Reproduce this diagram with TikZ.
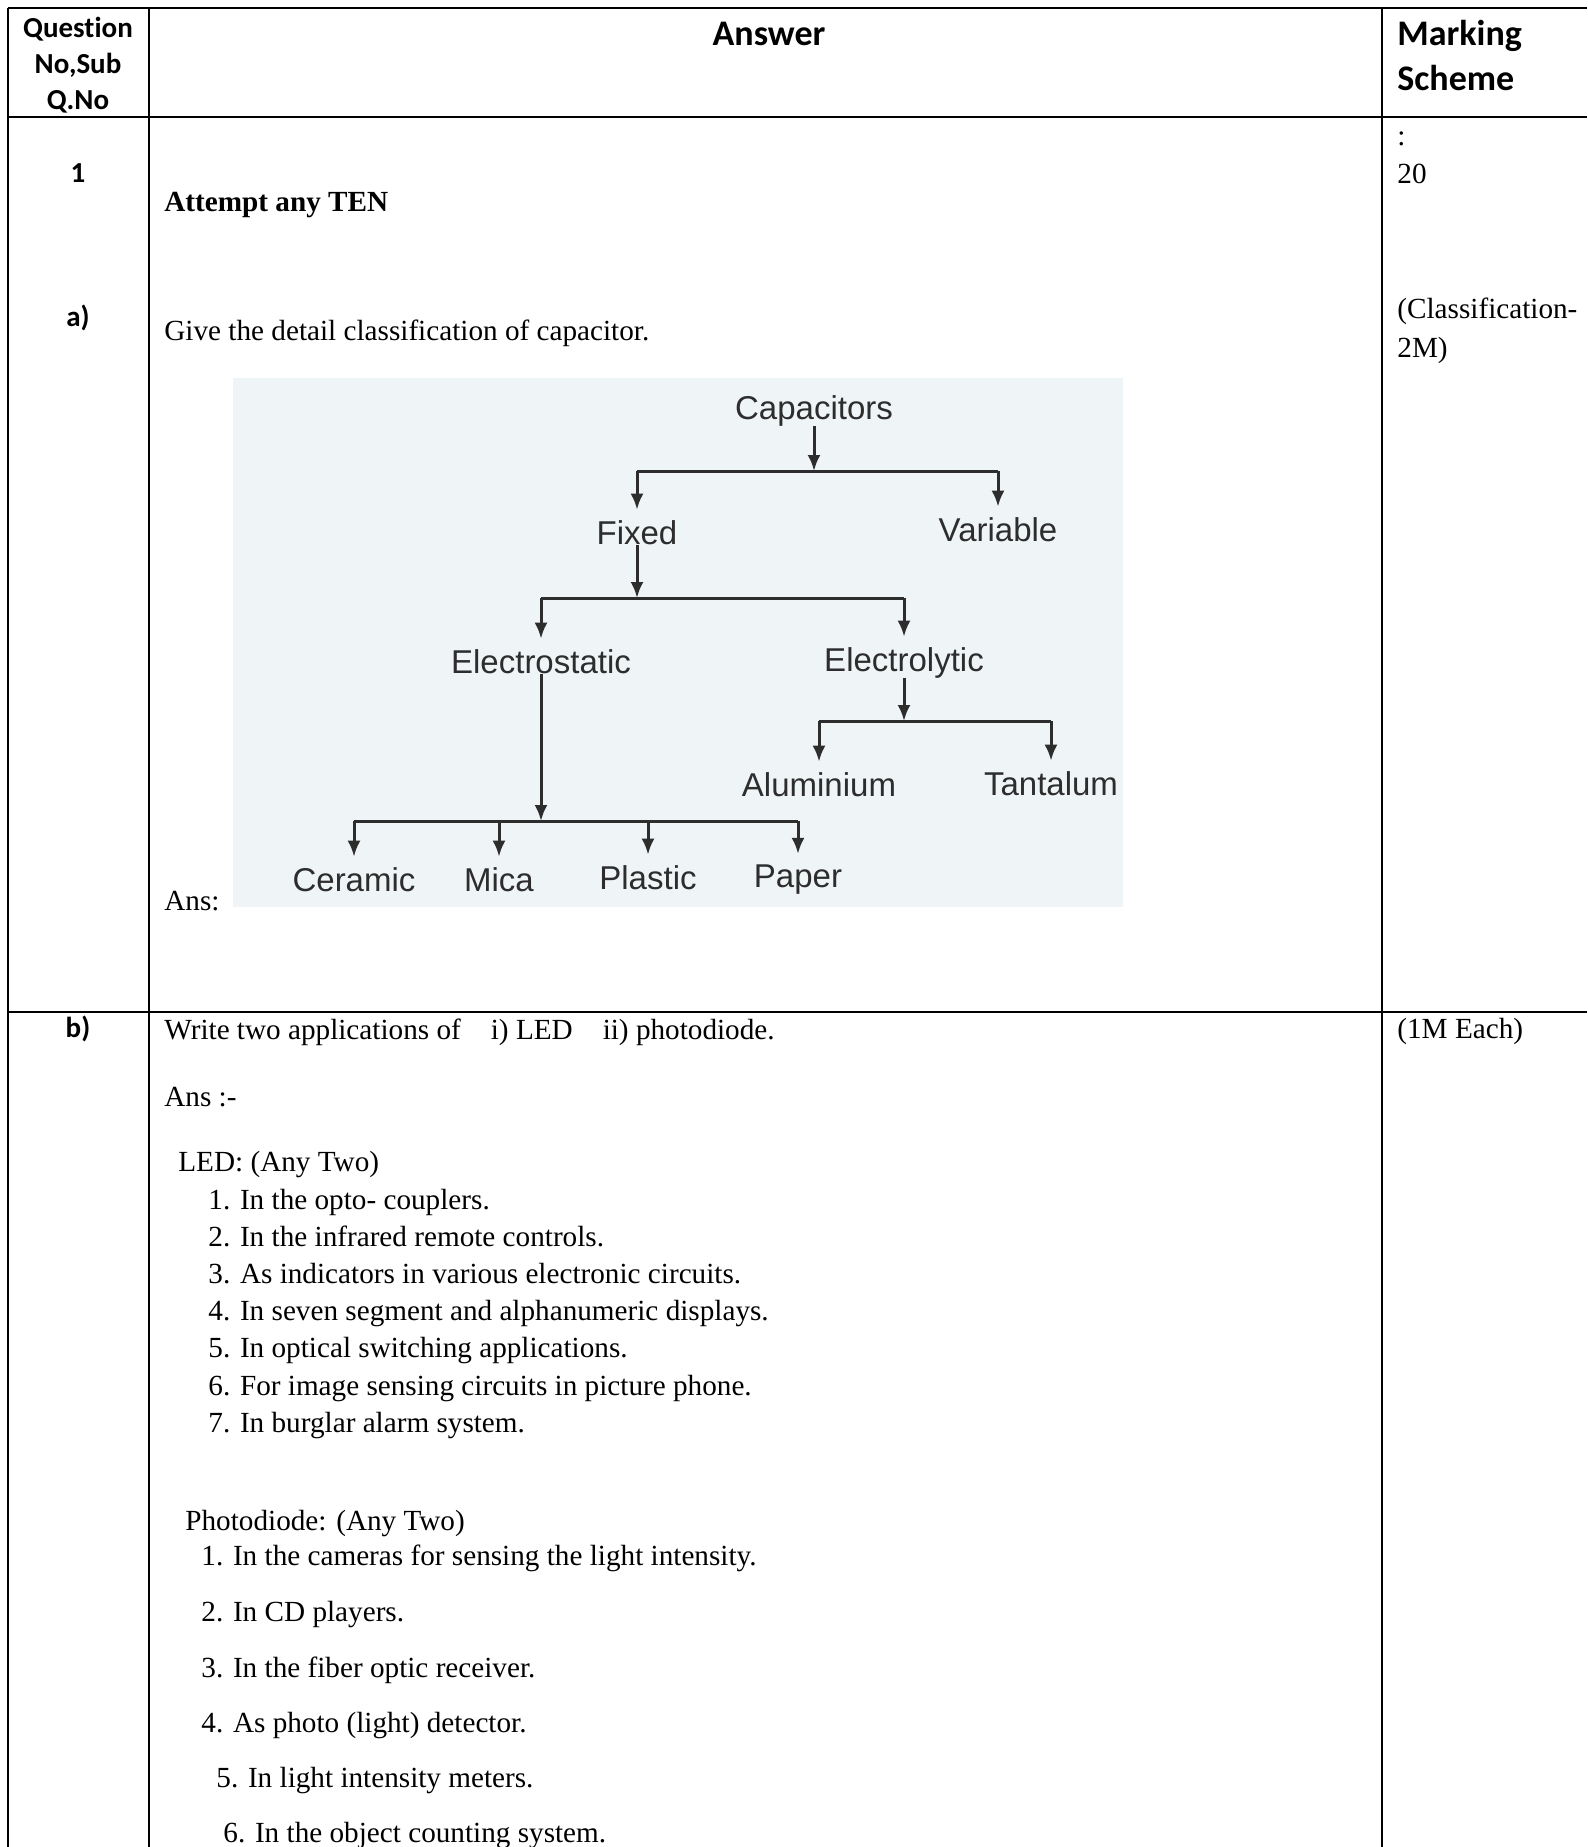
\documentclass[tikz,border=0pt]{standalone}
\usepackage{fontspec}
\setmainfont{Liberation Serif}
\newfontfamily\calibrifont[Ligatures=NoCommon]{Carlito}
\newfontfamily\arialfont{Liberation Sans}
\usetikzlibrary{arrows.meta, calc}

\definecolor{scanbg}{RGB}{239,244,246}
\definecolor{scanink}{RGB}{45,45,45}

\tikzset{
  rule/.style={line width=1pt},
  headtxt/.style={anchor=base, inner sep=0pt, font=\calibrifont\bfseries\fontsize{18pt}{22pt}\selectfont},
  qtxt/.style={anchor=base, inner sep=0pt, font=\calibrifont\bfseries\fontsize{14.5pt}{18pt}\selectfont},
  bodytxt/.style={anchor=base west, inner sep=0pt, font=\fontsize{14.6pt}{18pt}\selectfont},
  cls/.style={anchor=base, inner sep=0pt, text=scanink, font=\arialfont\fontsize{16.5pt}{20pt}\selectfont},
  arr/.style={draw=scanink, line width=1.5pt, -{Latex[length=8pt,width=6.5pt]}},
  bar/.style={draw=scanink, line width=1.5pt},
}

\begin{document}
\begin{tikzpicture}[x=0.5pt, y=-0.5pt]
\useasboundingbox (0,0) rectangle (1587,1847);
\fill[white] (0,0) rectangle (1587,1847);

% Draw table lines
\draw[rule, line width=1.4pt] (8,8) -- (1587,8);
\draw[rule, line width=1.4pt] (8,117) -- (1587,117);
\draw[rule, line width=1.3pt] (8,1012) -- (1587,1012);
\foreach \x in {8,149,1382} {
    \draw[rule] (\x,8) -- (\x,1847);
}

% Header row
\node[qtxt] (qh1) at (78,37) {Question};
\node[qtxt] (qh2) at (78,73) {No,Sub};
\node[qtxt] (qh3) at (78,109) {Q.No};
\node[headtxt] (anshead) at (769,45) {Answer};
\node[headtxt, anchor=base west] (markh1) at (1397,45) {Marking};
\node[headtxt, anchor=base west] (markh2) at (1397,90) {Scheme};

% Question 1 a)
\node[qtxt] (q1) at (78,182) {1};
\node[bodytxt, font=\bfseries\fontsize{14.6pt}{18pt}\selectfont] (attempt) at (164,211) {Attempt any TEN};
\node[bodytxt] (colon) at (1397,145) {:};
\node[bodytxt] (marks) at (1397,183) {20};
\node[qtxt] (qa) at (78,326) {a)};
\node[bodytxt] (qatext) at (164,340) {Give the detail classification of capacitor.};
\node[bodytxt] (qamark1) at (1397,318) {(Classification-};
\node[bodytxt] (qamark2) at (1397,357) {2M)};
\node[bodytxt] (qaans) at (164,910) {Ans:};

% Capacitor classification (scanned figure)
\fill[scanbg] (233,378) rectangle (1123,907);
\node[cls] (cap) at (814,419) {Capacitors};
\node[cls] (fixed) at (637,544) {Fixed};
\node[cls] (var) at (998,541) {Variable};
\node[cls] (estat) at (541,673) {Electrostatic};
\node[cls] (elyt) at (904,671) {Electrolytic};
\node[cls] (alu) at (819,796) {Aluminium};
\node[cls] (tant) at (1051,795) {Tantalum};
\node[cls] (cer) at (354,891) {Ceramic};
\node[cls] (mica) at (499,891) {Mica};
\node[cls] (plas) at (648,889) {Plastic};
\node[cls] (pap) at (798,887) {Paper};

\coordinate (capbar) at (0,471);
\coordinate (fixbar) at (0,598);
\coordinate (elybar) at (0,721);
\coordinate (estbar) at (0,821);

\draw[arr] (cap) -- (cap |- capbar);
\draw[bar] (fixed |- capbar) -- (var |- capbar);
\foreach \n in {fixed,var} {
    \draw[arr, shorten >=5pt] (\n |- capbar) -- (\n);
}
\draw[arr] (fixed) -- (fixed |- fixbar);
\draw[bar] (estat |- fixbar) -- (elyt |- fixbar);
\foreach \n in {estat,elyt} {
    \draw[arr, shorten >=5pt] (\n |- fixbar) -- (\n);
}
\draw[arr] (elyt) -- (elyt |- elybar);
\draw[bar] (alu |- elybar) -- (tant |- elybar);
\foreach \n in {alu,tant} {
    \draw[arr, shorten >=5pt] (\n |- elybar) -- (\n);
}
\draw[arr] (estat) -- (estat |- estbar);
\draw[bar] (cer |- estbar) -- (pap |- estbar);
\foreach \n in {cer,mica,plas,pap} {
    \draw[arr, shorten >=5pt] (\n |- estbar) -- (\n);
}

% Question 1 b)
\node[qtxt] (qb) at (78,1037) {b)};
\node[bodytxt] (qbtext) at (164,1039) {Write two applications of\hspace{15pt}i) LED\hspace{15pt}ii) photodiode.};
\node[bodytxt] (qbmark) at (1397,1038) {(1M Each)};
\node[bodytxt] (qbans) at (164,1106) {Ans :-};
\node[bodytxt] (ledhead) at (178,1171) {LED: (Any Two)};
\foreach \t [count=\i] in {{1. In the opto- couplers.},
    {2. In the infrared remote controls.},
    {3. As indicators in various electronic circuits.},
    {4. In seven segment and alphanumeric displays.},
    {5. In optical switching applications.},
    {6. For image sensing circuits in picture phone.},
    {7. In burglar alarm system.}} {
    \node[bodytxt] (led\i) at (208,{1209+37.2*(\i-1)}) {\t};
}
\node[bodytxt] (pdhead) at (185,1530) {Photodiode: (Any Two)};
\foreach \x/\y/\t [count=\i] in {201/1565/{1. In the cameras for sensing the light intensity.},
    201/1621/{2. In CD players.},
    201/1677/{3. In the fiber optic receiver.},
    201/1732/{4. As photo (light) detector.},
    216/1787/{5. In light intensity meters.},
    223/1842/{6. In the object counting system.}} {
    \node[bodytxt] (pd\i) at (\x,\y) {\t};
}
\end{tikzpicture}
\end{document}
